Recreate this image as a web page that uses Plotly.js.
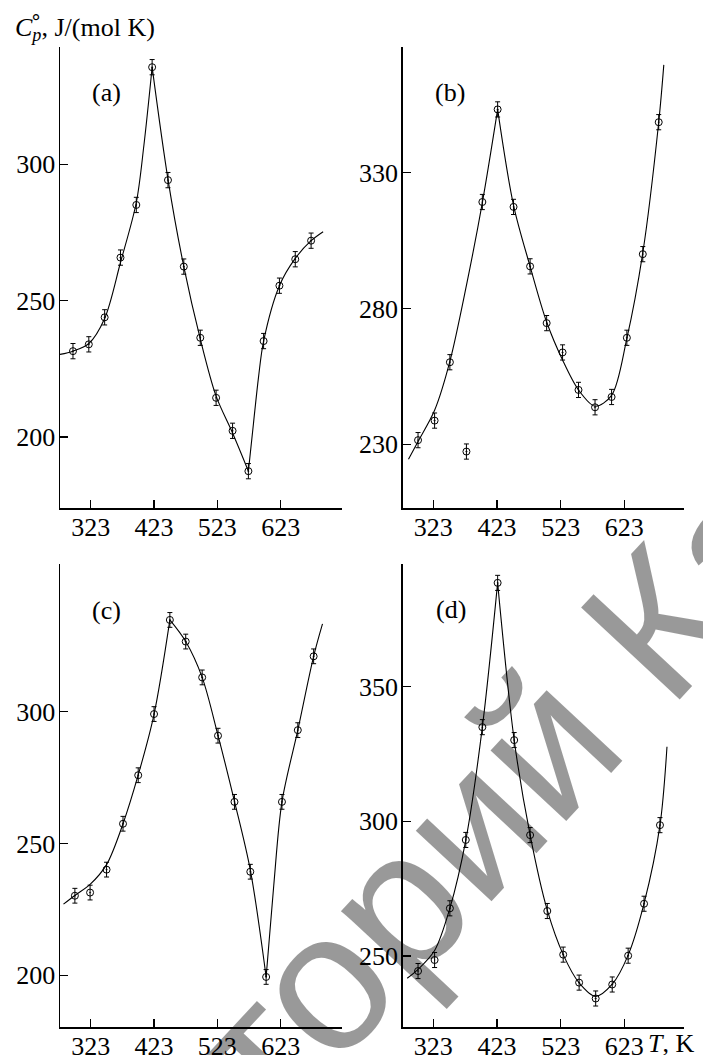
<!DOCTYPE html>
<html>
<head>
<meta charset="utf-8">
<script src="https://cdn.plot.ly/plotly-3.0.1.min.js"></script>
<style>html,body{margin:0;padding:0;background:#fff;}#chart{width:703px;height:1055px;}</style>
</head>
<body>
<div id="chart"></div>
<script>
// ---------- data ----------
const xTickVals = [323, 423, 523, 623];
const xTickText = ["323", "423", "523", "623"];

// panel (a)
const aT  = [295, 320, 345, 370, 395, 420, 445, 470, 496, 521, 547, 572, 596, 621, 646, 671];
const aCp = [231.5, 234, 243.9, 265.8, 285.1, 335.6, 294.2, 262.5, 236.4, 214.4, 202.3, 187.5, 235.2, 255.5, 265.2, 272];
const aFit1T  = [274.5, 295, 320, 345, 370, 395, 407, 420];
const aFit1Cp = [230.3, 231.5, 234.3, 243.5, 264, 286, 307, 335.6];
const aFit2T  = [420, 445, 470, 496, 521, 547, 572];
const aFit2Cp = [335.6, 294.5, 262.5, 236, 215, 201.5, 187.5];
const aFit3T  = [572, 580, 588, 596, 621, 646, 671, 690];
const aFit3Cp = [187.5, 205, 222, 235.2, 255.5, 265.5, 272, 275.3];
const aYTicks = [200, 250, 300];

// panel (b)
const bT  = [299, 325, 349, 375, 400, 424, 449, 475, 501, 526, 551, 577, 603, 627, 652, 677];
const bCp = [231.5, 238.7, 260.2, 227.3, 319.2, 353.3, 317.4, 295.5, 274.6, 263.8, 250, 243.6, 247.4, 269.2, 300, 348.6];
const bFit1T  = [284, 299, 325, 349, 375, 400, 424];
const bFit1Cp = [224.5, 231, 242.5, 260.5, 288.5, 319, 353.3];
const bFit2T  = [424, 449, 475, 501, 526, 551, 577, 603, 627, 652, 677, 685];
const bFit2Cp = [353.3, 318, 295.5, 275, 261, 250, 244, 248, 269, 300.5, 348.6, 369.7];
const bYTicks = [230, 280, 330];

// panel (c)
const cT  = [298, 322, 348, 374, 398, 423, 448, 473, 499, 524, 550, 575, 600, 625, 650, 675];
const cCp = [230.2, 231.4, 240.1, 257.5, 275.9, 299.1, 334.8, 326.6, 313, 290.9, 265.8, 239.3, 199.4, 265.8, 293, 321];
const cFit1T  = [280, 298, 322, 348, 374, 398, 423, 448];
const cFit1Cp = [227, 230.3, 234.5, 242, 257.5, 276, 299, 334.8];
const cFit2T  = [448, 473, 499, 524, 550, 575, 600];
const cFit2Cp = [334.8, 326.6, 313, 291, 266, 240, 199.4];
const cFit3T  = [600, 612, 625, 650, 675, 689];
const cFit3Cp = [199.4, 234, 265.8, 293, 321, 333.3];
const cYTicks = [200, 250, 300];

// panel (d)
const dT  = [299, 325, 349, 374, 400, 424, 450, 475, 502, 527, 552, 578, 604, 629, 654, 679];
const dCp = [244.4, 248.5, 267.7, 293.1, 335, 388.6, 330.2, 294.9, 266.7, 250.5, 240.1, 234.2, 239.4, 250.1, 269.4, 298.6];
const dFit1T  = [282, 299, 325, 349, 374, 400, 424];
const dFit1Cp = [241.7, 245, 252, 267.7, 293, 335, 388.6];
const dFit2T  = [424, 450, 475, 502, 527, 552, 578, 604, 629, 654, 679, 690];
const dFit2Cp = [388.6, 330.2, 295, 267, 250.5, 240, 235, 239.5, 250.3, 269.5, 298.6, 327.7];
const dYTicks = [250, 300, 350];

const errHalf = 2.8;

// ---------- build ----------
const W = 703, H = 1055;
const px = v => v / W;
const py = v => 1 - v / H;

const panels = [
  {T: aT, Cp: aCp, fits: [[aFit1T, aFit1Cp], [aFit2T, aFit2Cp], [aFit3T, aFit3Cp]], yt: aYTicks,
   xr: [274.5, 719.8], yr: [174.0, 343.0], xd: [px(60), px(342)], yd: [py(508), py(47)]},
  {T: bT, Cp: bCp, fits: [[bFit1T, bFit1Cp], [bFit2T, bFit2Cp]], yt: bYTicks,
   xr: [274.9, 717.2], yr: [206.4, 376.4], xd: [px(402.7), px(684.3)], yd: [py(508.3), py(46.7)]},
  {T: cT, Cp: cCp, fits: [[cFit1T, cFit1Cp], [cFit2T, cFit2Cp], [cFit3T, cFit3Cp]], yt: cYTicks,
   xr: [274.5, 719.8], yr: [180.3, 355.9], xd: [px(60), px(342)], yd: [py(1027.3), py(564.3)]},
  {T: dT, Cp: dCp, fits: [[dFit1T, dFit1Cp], [dFit2T, dFit2Cp]], yt: dYTicks,
   xr: [274.9, 717.2], yr: [223.5, 395.5], xd: [px(402.7), px(684.3)], yd: [py(1027.3), py(564.3)]}
];

const font = "Liberation Serif, Times New Roman, serif";
const FS = 26;
const data = [];
const layout = {
  width: W, height: H, autosize: false,
  margin: {l: 0, r: 0, t: 0, b: 0, pad: 0},
  paper_bgcolor: "#fff", plot_bgcolor: "#fff",
  showlegend: false,
  font: {family: font, size: FS, color: "#000"},
  annotations: [], shapes: []
};

panels.forEach((p, i) => {
  const n = i === 0 ? "" : String(i + 1);
  const xa = "x" + n, ya = "y" + n;
  p.fits.forEach(f => {
    data.push({x: f[0], y: f[1], xaxis: xa, yaxis: ya, type: "scatter", mode: "lines",
      line: {color: "#000", width: 1.1, shape: "spline", smoothing: 0.9}, hoverinfo: "skip"});
  });
  data.push({x: p.T, y: p.Cp, xaxis: xa, yaxis: ya, type: "scatter", mode: "markers",
    marker: {symbol: "circle-open-dot", size: 7, color: "#000", line: {color: "#000", width: 1}},
    error_y: {type: "constant", value: errHalf, color: "#000", thickness: 1, width: 2.5}});
  const axCommon = {showgrid: false, zeroline: false, showline: true, linecolor: "#000", linewidth: 1.5,
    ticks: "inside", ticklen: 8, tickwidth: 1.3, tickcolor: "#000",
    tickfont: {family: font, size: FS, color: "#000"}, fixedrange: true};
  layout["xaxis" + n] = Object.assign({}, axCommon, {domain: p.xd, range: p.xr, anchor: ya,
    tickmode: "array", tickvals: xTickVals, ticktext: xTickText, ticklabelstandoff: -5});
  layout["yaxis" + n] = Object.assign({}, axCommon, {domain: p.yd, range: p.yr, anchor: xa,
    tickmode: "array", tickvals: p.yt, ticktext: p.yt.map(String), ticklabelstandoff: -2});
});

const labels = [["(a)", 90, 92], ["(b)", 433, 92], ["(c)", 90, 610], ["(d)", 434, 609]];
labels.forEach(l => layout.annotations.push({text: l[0], xref: "paper", yref: "paper",
  x: px(l[1]), y: py(l[2]), xanchor: "left", yanchor: "middle", showarrow: false,
  font: {family: font, size: FS, color: "#000"}}));

layout.annotations.push({text: "<i>C</i><sub><i>p</i></sub>, J/(mol K)", xref: "paper", yref: "paper",
  x: px(13), y: py(29), xanchor: "left", yanchor: "middle", showarrow: false,
  font: {family: font, size: FS, color: "#000"}});
layout.annotations.push({text: "°", xref: "paper", yref: "paper",
  x: px(36), y: py(22), xanchor: "center", yanchor: "middle", showarrow: false,
  font: {family: "DejaVu Sans", size: 20, color: "#000"}});
layout.annotations.push({text: "<i>T</i>, K", xref: "paper", yref: "paper",
  x: px(646), y: py(1043), xanchor: "left", yanchor: "middle", showarrow: false,
  font: {family: font, size: FS, color: "#000"}});

// watermark (semi-transparent so the black marks stay black beneath it)
layout.annotations.push({text: "Репозиторий КарГУ", xref: "paper", yref: "paper",
  x: px(395), y: py(905), xanchor: "center", yanchor: "middle", showarrow: false, textangle: -47,
  font: {family: "Liberation Sans, Arial, sans-serif", size: 196, color: "rgba(0,0,0,0.4)"}});

Plotly.newPlot("chart", data, layout, {staticPlot: true, displayModeBar: false});
</script>
</body>
</html>
